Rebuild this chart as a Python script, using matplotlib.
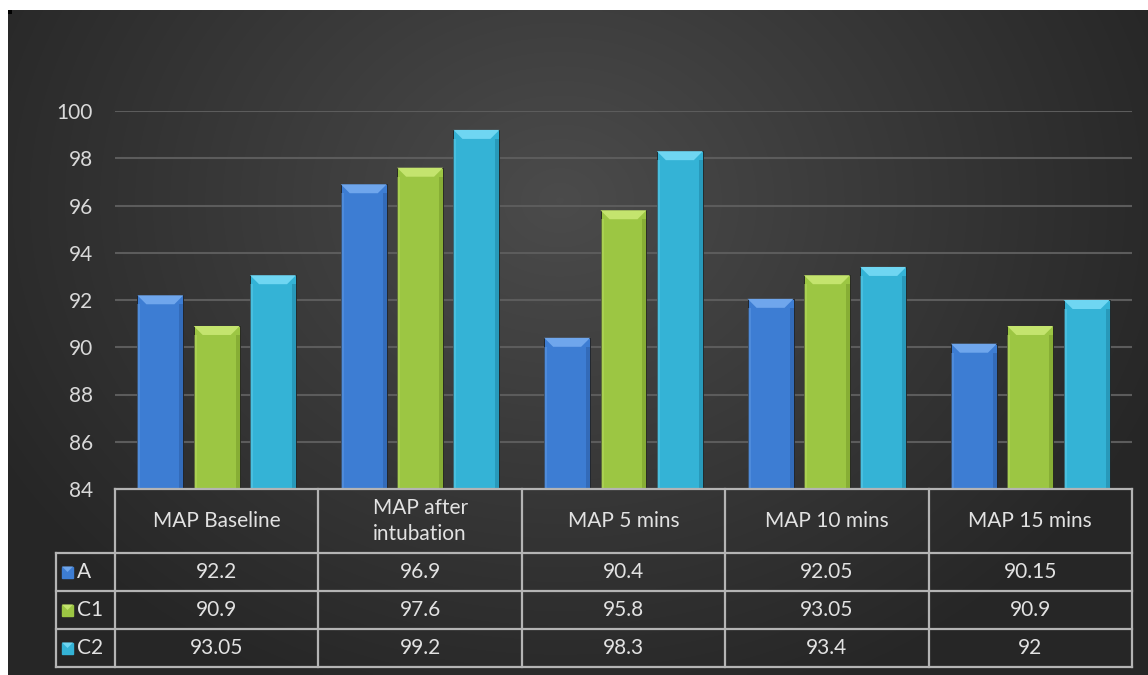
import numpy as np
import matplotlib.pyplot as plt
import matplotlib
from matplotlib.patches import Polygon, Rectangle
from matplotlib.lines import Line2D

matplotlib.rcParams['font.family'] = ['Lato', 'DejaVu Sans']

# ---------------------------------------------------------------------------
# data
# ---------------------------------------------------------------------------
categories = ['MAP Baseline', 'MAP after\nintubation', 'MAP 5 mins',
              'MAP 10 mins', 'MAP 15 mins']
series_names = ['A', 'C1', 'C2']
vals_a = [92.2, 96.9, 90.4, 92.05, 90.15]
vals_c1 = [90.9, 97.6, 95.8, 93.05, 90.9]
vals_c2 = [93.05, 99.2, 98.3, 93.4, 92]
yticks = [84, 86, 88, 90, 92, 94, 96, 98, 100]

series = [vals_a, vals_c1, vals_c2]
# main / bevel highlight / shade
colors = [('#3d7dd3', '#6fa6ec', '#2d5fa8'),
          ('#9cc643', '#c4e46e', '#7a9e2c'),
          ('#34b3d6', '#6fd6f2', '#2088a8')]

W, H = 1148, 675
FS = 15
fig = plt.figure(figsize=(W / 100, H / 100), dpi=100)
fig.patch.set_facecolor('white')

# dark radial backdrop
bg = fig.add_axes([8 / W, 0, 1 - 8 / W, (H - 10) / H])
gx, gy = np.meshgrid(np.linspace(8, W, 400), np.linspace(10, H, 240))
r = np.sqrt(((gx - 560) / 650) ** 2 + ((gy - 200) / 540) ** 2)
shade = 0.295 - 0.145 * np.clip(r, 0, 1)
bg.imshow(np.dstack([shade] * 3), extent=[0, 1, 0, 1], aspect='auto',
          origin='upper', interpolation='bilinear')
bg.axis('off')
fig.add_artist(Rectangle((8 / W, (H - 14) / H), 4 / W, 4 / H,
                         transform=fig.transFigure, color='black', lw=0))

# plot area
x0, x1 = 115, 1132
y_top, y_bot = 111, 489
ax = fig.add_axes([x0 / W, (H - y_bot) / H, (x1 - x0) / W, (y_bot - y_top) / H])
ax.set_facecolor('none')
ax.set_xlim(-0.5, 4.5)
ax.set_ylim(84, 100)
for s in ax.spines.values():
    s.set_visible(False)
ax.set_xticks([])
ax.set_yticks(yticks)
ax.tick_params(axis='y', length=0, pad=16, labelsize=FS, labelcolor='#d9d9d9')
for t in yticks[1:]:
    ax.axhline(t, color='#5c5c5c', lw=1.5, zorder=0)

px_x = 5.0 / (x1 - x0)          # data units per pixel, x
px_y = 16.0 / (y_bot - y_top)   # data units per pixel, y
bw = 0.226
step = 0.277
x = np.arange(len(categories))
for k, (vals, (c_main, c_hi, c_sh)) in enumerate(zip(series, colors)):
    xs = x + (k - 1) * step
    ax.bar(xs, np.array(vals) - 84, bottom=84, width=bw, color=c_main,
           edgecolor='#1e1e1e', linewidth=0.6, zorder=2)
    for xc, v in zip(xs, vals):
        l, rgt = xc - bw / 2, xc + bw / 2
        bev_x, bev_y = 9 * px_x, 9 * px_y
        ax.add_patch(Rectangle((l, 84), 3 * px_x, v - 84 - bev_y, color=c_hi,
                               alpha=0.35, lw=0, zorder=3))
        ax.add_patch(Rectangle((rgt - 4 * px_x, 84), 4 * px_x, v - 84 - bev_y,
                               color=c_sh, alpha=0.6, lw=0, zorder=3))
        ax.add_patch(Polygon([(l, v), (rgt, v), (rgt - bev_x, v - bev_y),
                              (l + bev_x, v - bev_y)], closed=True,
                             color=c_hi, lw=0, zorder=3))

# data table below the axis
tc = '#b4b4b4'
tr = ax.get_xaxis_transform()
h = y_bot - y_top


def fy(py):
    return (y_bot - py) / h


rows_px = [489, 553, 591, 629, 667]
left_leg = -0.5 + (56 - x0) * px_x
lkw = dict(color=tc, lw=1.6, transform=tr, clip_on=False, zorder=5)
ax.add_line(Line2D([-0.5, 4.5], [fy(489)] * 2, **lkw))
for py in rows_px[1:]:
    ax.add_line(Line2D([left_leg, 4.5], [fy(py)] * 2, **lkw))
for b in np.arange(-0.5, 4.6, 1.0):
    ax.add_line(Line2D([b, b], [fy(489), fy(667)], **lkw))
ax.add_line(Line2D([left_leg, left_leg], [fy(553), fy(667)], **lkw))

txt = dict(transform=tr, ha='center', va='center', color='#e2e2e2',
           fontsize=FS, clip_on=False)
for i, cat in enumerate(categories):
    ax.text(i, fy(521), cat, linespacing=1.4, **txt)
for j, (name, vals, (c_main, c_hi, c_sh)) in enumerate(zip(series_names, series, colors)):
    yc = fy((rows_px[j + 1] + rows_px[j + 2]) / 2)
    for i, v in enumerate(vals):
        ax.text(i, yc, f'{v:g}', **txt)
    # legend key: small bevelled square
    kx = left_leg + 6 * px_x
    ks = 11 * px_x
    kh = 11 / h
    ax.add_patch(Rectangle((kx, yc - kh / 2), ks, kh, transform=tr,
                           color=c_main, clip_on=False, zorder=6))
    ax.add_patch(Polygon([(kx, yc + kh / 2), (kx + ks, yc + kh / 2),
                          (kx + ks / 2, yc)], closed=True, transform=tr,
                         color=c_hi, clip_on=False, zorder=7, lw=0))
    ax.text(kx + ks + 4 * px_x, yc, name, transform=tr, ha='left',
            va='center', color='#e2e2e2', fontsize=FS, clip_on=False)

fig.savefig('out.png', dpi=100)
